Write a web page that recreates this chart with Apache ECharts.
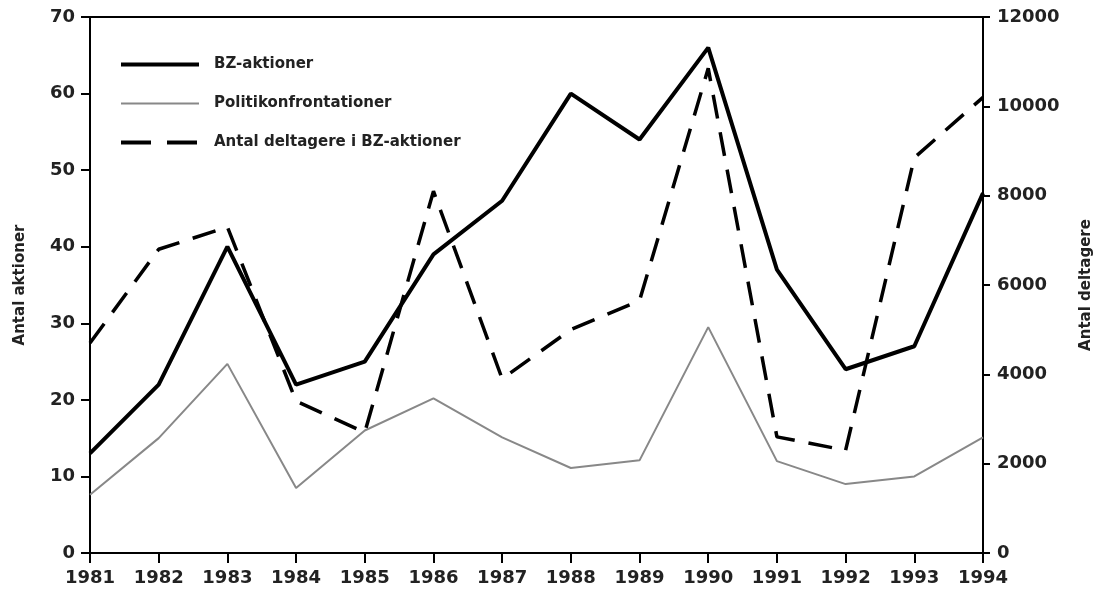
<!DOCTYPE html>
<html>
<head>
<meta charset="utf-8">
<script src="https://cdn.jsdelivr.net/npm/echarts@6/dist/echarts.min.js"></script>
<style>
  html, body { margin: 0; padding: 0; background: #fff; }
  #main { width: 1102px; height: 600px; }
</style>
</head>
<body>
<div id="main"></div>
<script>
// data
const years = ['1981','1982','1983','1984','1985','1986','1987','1988','1989','1990','1991','1992','1993','1994'];
const bzAktioner = [13, 22, 40, 22, 25, 39, 46, 60, 54, 66, 37, 24, 27, 47];
const politi = [7.6, 15, 24.7, 8.5, 16, 20.2, 15.1, 11.1, 12.1, 29.5, 12, 9, 10, 15.1];
const deltagere = [4700, 6800, 7300, 3400, 2700, 8100, 3900, 5000, 5650, 10850, 2600, 2300, 8850, 10200];

const font = 'DejaVu Sans';
const chart = echarts.init(document.getElementById('main'), null, { renderer: 'canvas' });

chart.setOption({
  backgroundColor: '#fff',
  animation: false,
  textStyle: { fontFamily: font },
  grid: {
    left: 90, right: 117, top: 17, bottom: 47,
    show: true, borderColor: '#000', borderWidth: 2
  },
  legend: {
    orient: 'vertical',
    left: 114, top: 52,
    itemWidth: 78, itemHeight: 14,
    itemGap: 24,
    itemStyle: { opacity: 0 },
    textStyle: { fontFamily: font, fontWeight: 'bold', fontSize: 15, color: '#222', padding: [0, 0, 0, 10] },
    data: [
      { name: 'BZ-aktioner', lineStyle: { width: 4 } },
      { name: 'Politikonfrontationer', lineStyle: { width: 2 } },
      { name: 'Antal deltagere i BZ-aktioner', lineStyle: { width: 4, type: [30, 16] } }
    ]
  },
  xAxis: {
    type: 'category',
    data: years,
    boundaryGap: false,
    axisLine: { lineStyle: { color: '#000', width: 2 } },
    axisTick: { length: 10, lineStyle: { color: '#000', width: 2 } },
    axisLabel: { fontFamily: font, fontWeight: 'bold', fontSize: 18, color: '#222', margin: 16 }
  },
  yAxis: [
    {
      type: 'value', min: 0, max: 70, interval: 10,
      name: 'Antal aktioner', nameLocation: 'middle', nameGap: 62, nameRotate: 90,
      nameTextStyle: { fontFamily: font, fontWeight: 'bold', fontSize: 15, color: '#222' },
      axisLine: { show: true, lineStyle: { color: '#000', width: 2 } },
      axisTick: { show: true, length: 9, lineStyle: { color: '#000', width: 2 } },
      axisLabel: { fontFamily: font, fontWeight: 'bold', fontSize: 18, color: '#222', margin: 15 },
      splitLine: { show: false }
    },
    {
      type: 'value', min: 0, max: 12000, interval: 2000,
      name: 'Antal deltagere', nameLocation: 'middle', nameGap: 96, nameRotate: 90,
      nameTextStyle: { fontFamily: font, fontWeight: 'bold', fontSize: 15, color: '#222' },
      axisLine: { show: true, lineStyle: { color: '#000', width: 2 } },
      axisTick: { show: true, length: 7, lineStyle: { color: '#000', width: 2 } },
      axisLabel: { fontFamily: font, fontWeight: 'bold', fontSize: 18, color: '#222', margin: 14,
        formatter: v => String(v) },
      splitLine: { show: false }
    }
  ],
  series: [
    {
      name: 'BZ-aktioner', type: 'line', yAxisIndex: 0,
      data: bzAktioner, symbol: 'none',
      lineStyle: { color: '#000', width: 4 },
      itemStyle: { color: '#000' }
    },
    {
      name: 'Politikonfrontationer', type: 'line', yAxisIndex: 0,
      data: politi, symbol: 'none',
      lineStyle: { color: '#888', width: 2 },
      itemStyle: { color: '#888' }
    },
    {
      name: 'Antal deltagere i BZ-aktioner', type: 'line', yAxisIndex: 1,
      data: deltagere, symbol: 'none',
      lineStyle: { color: '#000', width: 3.5, type: [24, 14] },
      itemStyle: { color: '#000' }
    }
  ]
});
</script>
</body>
</html>
